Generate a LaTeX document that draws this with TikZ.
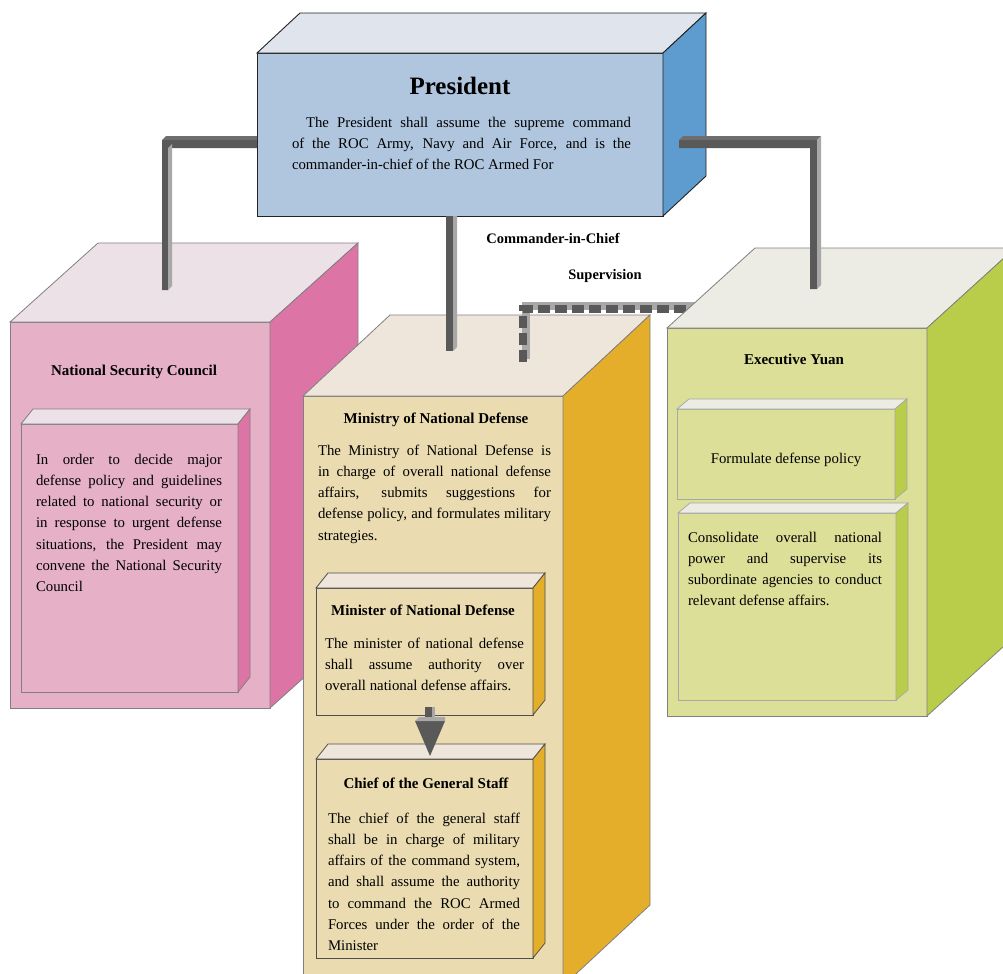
\documentclass[tikz,border=0pt]{standalone}
\usepackage{fontspec}
\setmainfont{Liberation Serif}
\tolerance=10000 \hbadness=10000 \hfuzz=20pt
\definecolor{presF}{HTML}{B0C6DF}\definecolor{presT}{HTML}{E0E5ED}\definecolor{presR}{HTML}{5E9CCF}
\definecolor{nscF}{HTML}{E6B0C7}\definecolor{nscT}{HTML}{EDE1E8}\definecolor{nscR}{HTML}{DC75A5}
\definecolor{mndF}{HTML}{EADCB0}\definecolor{mndT}{HTML}{EEE6DA}\definecolor{mndR}{HTML}{E4AE2A}
\definecolor{eyF}{HTML}{DCDF98}\definecolor{eyT}{HTML}{EDECE4}\definecolor{eyR}{HTML}{BACD4A}
\definecolor{barD}{HTML}{595959}\definecolor{barL}{HTML}{A8A8A8}\definecolor{barT}{HTML}{6E6E6E}
\definecolor{edgeG}{HTML}{808080}\definecolor{edgeL}{HTML}{A8A8A8}\definecolor{edgeK}{HTML}{222222}
\tikzset{
  presfront/.style={fill=presF,draw=edgeK,line width=0.9pt},
  prestop/.style={fill=presT,draw=edgeK,line width=0.9pt},
  presright/.style={fill=presR,draw=edgeK,line width=0.9pt},
  nscfront/.style={fill=nscF,draw=edgeG,line width=0.8pt},
  nsctop/.style={fill=nscT,draw=edgeG,line width=0.8pt},
  nscright/.style={fill=nscR,draw=edgeG,line width=0.8pt},
  mndfront/.style={fill=mndF,draw=edgeG,line width=0.8pt},
  mndtop/.style={fill=mndT,draw=edgeG,line width=0.8pt},
  mndright/.style={fill=mndR,draw=edgeG,line width=0.8pt},
  mnifront/.style={fill=mndF,draw=edgeK!80,line width=0.8pt},
  mnitop/.style={fill=mndT,draw=edgeK!80,line width=0.8pt},
  mniright/.style={fill=mndR,draw=edgeK!80,line width=0.8pt},
  eyfront/.style={fill=eyF,draw=edgeG,line width=0.8pt},
  eytop/.style={fill=eyT,draw=edgeG,line width=0.8pt},
  eyright/.style={fill=eyR,draw=edgeG,line width=0.8pt},
  eyifront/.style={fill=eyF,draw=edgeL,line width=0.8pt},
  eyitop/.style={fill=eyT,draw=edgeL,line width=0.8pt},
  eyiright/.style={fill=eyR,draw=edgeL,line width=0.8pt},
  body/.style={inner sep=0pt,outer sep=0pt,font=\fontsize{14.8bp}{21.3bp}\selectfont},
  just/.style={body,align=justify},
  ttl/.style={inner sep=0pt,outer sep=0pt,font=\bfseries\fontsize{15bp}{18bp}\selectfont},
  lab/.style={inner sep=0pt,outer sep=0pt,font=\bfseries\fontsize{14.5bp}{18bp}\selectfont},
}
\newcommand{\myblock}[8]{%
  \node[#8front,anchor=north west,minimum width=#4bp,minimum height=#5bp,inner sep=0pt,outer sep=0pt] (#1) at (#2,#3) {};
  \filldraw[#8top] (#1.north west) -- ++(#6,-#7) -- ++(#4,0) -- (#1.north east) -- cycle;
  \filldraw[#8right] (#1.north east) -- ++(#6,-#7) -- ++(0,#5) -- (#1.south east) -- cycle;
}
\begin{document}
\begin{tikzpicture}[x=1bp,y=-1bp]
\useasboundingbox (0,0) rectangle (1003,974);
\fill[white] (0,0) rectangle (1003,974);
\clip (0,0) rectangle (1003,974);

% outer blocks
\myblock{nsc}{10}{322}{260}{386}{88}{79}{nsc}
\myblock{mnd}{303}{396}{260}{590}{87}{81}{mnd}

% supervision (dashed) connector: MND top -> Executive Yuan
\coordinate (supA) at (523,362);
\coordinate (supC) at (523,309);
\coordinate (supB) at (700,309);
\draw[barL,line width=8bp] ([shift={(3,-3)}]supA) -- ([shift={(3,-3)}]supC) -- ([shift={(3,-3)}]supB);
\draw[barD,line width=8bp,dash pattern=on 12bp off 5bp] (supA) -- (supC) -- (supB);

\myblock{ey}{667}{328}{260}{388}{88}{80}{ey}
\myblock{pres}{257}{53}{406}{163}{43}{40}{pres}

% solid connectors (3D bars)
\coordinate (lbA) at (257,140);
\coordinate (lbB) at (162,290);
\fill[barD] (lbA) -- (162,140) -- (lbB) -- (168,290) -- (168,148) -- (257,148) -- cycle;
\fill[barT] (162,140) -- (166,136) -- (257,136) -- (lbA) -- cycle;
\fill[barL] (168,148) -- (172,144) -- (172,286) -- (168,290) -- cycle;

\coordinate (mbA) at (446,216);
\coordinate (mbB) at (453,351);
\fill[barD] (mbA) rectangle (mbB);
\fill[barL] (453,216) -- (457,216) -- (457,347) -- (mbB) -- cycle;

\coordinate (rbA) at (679,140);
\coordinate (rbB) at (817,289);
\fill[barD] (rbA) -- (817,140) -- (rbB) -- (810,289) -- (810,148) -- (679,148) -- cycle;
\fill[barT] (rbA) -- (683,136) -- (821,136) -- (817,140) -- cycle;
\fill[barL] (817,140) -- (821,136) -- (821,285) -- (rbB) -- cycle;

% inner blocks
\myblock{nscin}{21}{424}{217}{268}{12}{15}{nsc}
\myblock{minister}{316}{588}{217}{127}{12}{15}{mni}
\myblock{chief}{316}{759}{217}{199}{12}{15}{mni}
\myblock{eyone}{677}{409}{218}{90}{12}{10}{eyi}
\myblock{eytwo}{678}{513}{218}{187}{12}{10}{eyi}

% arrow minister -> chief
\coordinate (arA) at (425,707);
\coordinate (arB) at (430,756);
\fill[barD] (arA) rectangle (432,721);
\fill[barL] (432,707) -- (435,707) -- (435,721) -- (432,721) -- cycle;
\fill[barD] (415,721) -- (445,721) -- (arB) -- cycle;
\fill[barL] (419,717) -- (445,717) -- (445,721) -- (415,721) -- cycle;

% texts
\node[inner sep=0pt,font=\bfseries\fontsize{25bp}{30bp}\selectfont,anchor=base] (prestitle) at (460,94) {President};
\node[just,anchor=base west,text width=339bp] (prestext) at (292,127)
 {\hspace*{14bp}The President shall assume the supreme command\linebreak
  of the ROC Army, Navy and Air Force, and is the\linebreak
  commander-in-chief of the ROC Armed For};

\node[lab,anchor=base] (cic) at (553,243) {Commander-in-Chief};
\node[lab,anchor=base] (sup) at (605,279) {Supervision};

\node[ttl,anchor=base] (nsctitle) at (134,375) {National Security Council};
\node[just,anchor=base west,text width=186bp] (nsctext) at (36,464)
 {In order to decide major\linebreak
  defense policy and guidelines\linebreak
  related to national security or\linebreak
  in response to urgent defense\linebreak
  situations, the President may\linebreak
  convene the National Security\linebreak
  Council};

\node[ttl,anchor=base] (mndtitle) at (436,423) {Ministry of National Defense};
\node[just,anchor=base west,text width=233bp] (mndtext) at (318,455)
 {The Ministry of National Defense is\linebreak
  in charge of overall national defense\linebreak
  affairs, submits suggestions for\linebreak
  defense policy, and formulates military\linebreak
  strategies.};

\node[ttl,anchor=base] (ministertitle) at (423,615) {Minister of National Defense};
\node[just,anchor=base west,text width=199bp] (ministertext) at (325,648)
 {The minister of national defense\linebreak
  shall assume authority over\linebreak
  overall national defense affairs.};

\node[ttl,anchor=base] (chieftitle) at (426,788) {Chief of the General Staff};
\node[just,anchor=base west,text width=192bp] (chieftext) at (328,823)
 {The chief of the general staff\linebreak
  shall be in charge of military\linebreak
  affairs of the command system,\linebreak
  and shall assume the authority\linebreak
  to command the ROC Armed\linebreak
  Forces under the order of the\linebreak
  Minister};

\node[ttl,anchor=base] (eytitle) at (794,364) {Executive Yuan};
\node[body,anchor=base] (eyonetext) at (786,463) {Formulate defense policy};
\node[just,anchor=base west,text width=194bp] (eytwotext) at (688,542)
 {Consolidate overall national\linebreak
  power and supervise its\linebreak
  subordinate agencies to conduct\linebreak
  relevant defense affairs.};
\end{tikzpicture}
\end{document}
